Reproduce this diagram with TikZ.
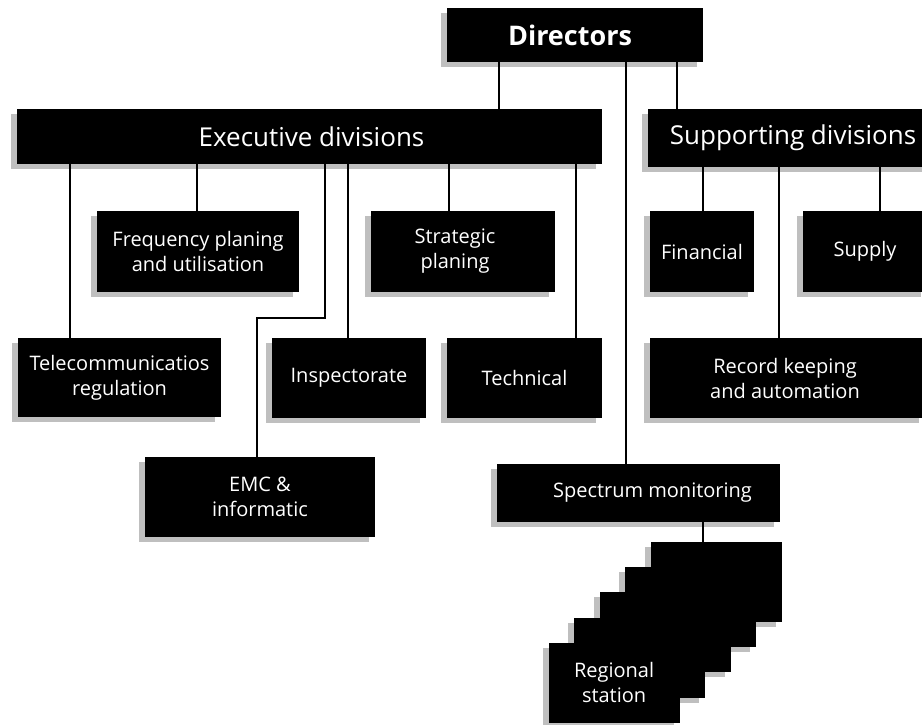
\documentclass[tikz,border=0pt]{standalone}
\usepackage{fontspec}
\setmainfont{Open Sans}
\usetikzlibrary{shadows}
\tikzset{
  box/.style={fill=black, draw=none, text=white, align=center, inner sep=0pt,
    font=\fontsize{20}{25}\selectfont,
    drop shadow={shadow xshift=-6pt, shadow yshift=-5pt, fill=gray!50, opacity=1}},
  bigbox/.style={box, font=\fontsize{26}{30}\selectfont},
  topbox/.style={box, font=\bfseries\fontsize{27}{30}\selectfont},
  link/.style={draw=black, line width=1.5pt}
}
\begin{document}
\begin{tikzpicture}[x=1pt,y=-1pt]
\useasboundingbox (0,0) rectangle (922,724);
\clip (0,0) rectangle (922,724);
% boxes
\node[topbox, minimum width=256pt, minimum height=54pt] (dir) at (575,35) {\hspace*{-10pt}Directors};
\node[bigbox, minimum width=585pt, minimum height=55pt] (exec) at (309.5,136.5) {\hspace*{4pt}Executive divisions};
\node[bigbox, minimum width=282pt, minimum height=58pt] (supp) at (789,138) {\hspace*{8pt}Supporting divisions};
\node[box, minimum width=202pt, minimum height=81pt] (freq) at (198,251.5) {Frequency planing\\and utilisation};
\node[box, minimum width=184pt, minimum height=81pt] (strat) at (463,251.5) {\hspace*{-16pt}Strategic\\\hspace*{-16pt}planing};
\node[box, minimum width=104pt, minimum height=81pt] (fin) at (702,251.5) {Financial};
\node[box, minimum width=124pt, minimum height=81pt] (supply) at (865,251.5) {Supply};
\node[box, minimum width=275pt, minimum height=80pt] (rec) at (787.5,378) {\hspace*{-5pt}Record keeping\\\hspace*{-5pt}and automation};
\node[box, minimum width=203pt, minimum height=79pt] (tele) at (119.5,377.5) {Telecommunicatios\\regulation};
\node[box, minimum width=154pt, minimum height=80pt] (insp) at (349,378) {Inspectorate};
\node[box, minimum width=155pt, minimum height=80pt] (tech) at (524.5,378) {Technical};
\node[box, minimum width=230pt, minimum height=80pt] (emc) at (260,497) {EMC \&\\informatic};
\node[box, minimum width=283pt, minimum height=58pt] (spec) at (638.5,493) {\hspace*{28pt}Spectrum monitoring};
% regional station stack
\foreach \k/\nm in {0/rs0,1/rs1,2/rs2,3/rs3} {
  \node[box, minimum width=131pt, minimum height=80pt] (\nm) at ({716.5-25.6*\k},{582+25.2*\k}) {};
}
\node[box, minimum width=131pt, minimum height=80pt] (rs4) at (614.1,682.8) {Regional\\station};
% connector columns
\coordinate (cdE) at (499,0);
\coordinate (cdS) at (677,0);
\coordinate (cdM) at (626,0);
\coordinate (ceT) at (70,0);
\coordinate (ceF) at (197,0);
\coordinate (ceE) at (325,0);
\coordinate (cEMC) at (257,318);
\coordinate (ceI) at (348,0);
\coordinate (ceS) at (449,0);
\coordinate (ceK) at (576,0);
\coordinate (csF) at (703,0);
\coordinate (csR) at (779,0);
\coordinate (csS) at (880,0);
\coordinate (cmR) at (703,0);
% connectors
\draw[link] (dir.south -| cdE) -- (exec.north -| cdE);
\draw[link] (dir.south -| cdS) -- (supp.north -| cdS);
\draw[link] (dir.south -| cdM) -- (spec.north -| cdM);
\draw[link] (exec.south -| ceT) -- (tele.north -| ceT);
\draw[link] (exec.south -| ceF) -- (freq.north -| ceF);
\draw[link] (exec.south -| ceE) |- (cEMC) -- (emc.north -| cEMC);
\draw[link] (exec.south -| ceI) -- (insp.north -| ceI);
\draw[link] (exec.south -| ceS) -- (strat.north -| ceS);
\draw[link] (exec.south -| ceK) -- (tech.north -| ceK);
\draw[link] (supp.south -| csF) -- (fin.north -| csF);
\draw[link] (supp.south -| csR) -- (rec.north -| csR);
\draw[link] (supp.south -| csS) -- (supply.north -| csS);
\draw[link] (spec.south -| cmR) -- (rs0.north -| cmR);
\end{tikzpicture}
\end{document}
